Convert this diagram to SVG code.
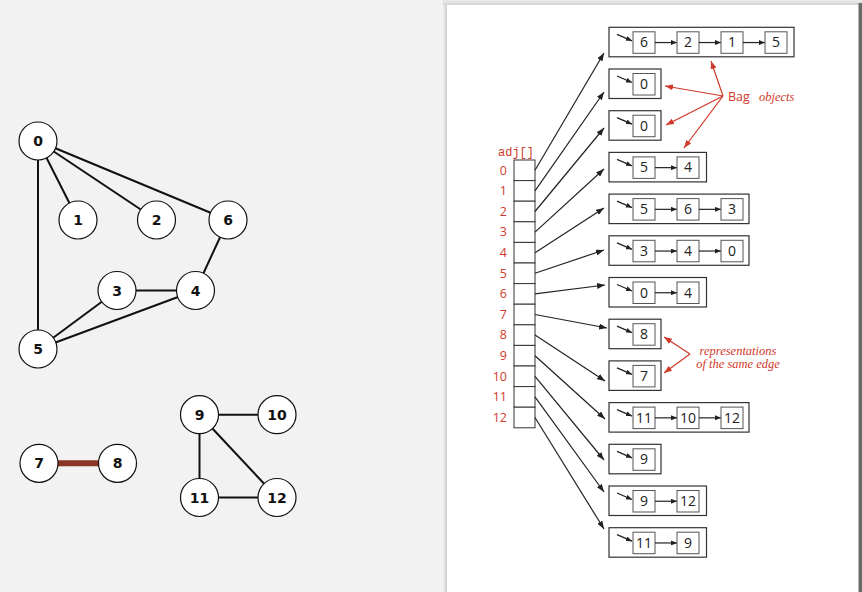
<svg xmlns="http://www.w3.org/2000/svg" width="862" height="592" viewBox="0 0 862 592">
<defs>
<style>
.edge{stroke:#111;stroke-width:2;fill:none}
.gnode circle{fill:#fff;stroke:#111;stroke-width:1.2}
.gnode text{font-family:"DejaVu Sans",sans-serif;font-weight:bold;font-size:14px;fill:#111;text-anchor:middle}
.cell{fill:#fff;stroke:#333;stroke-width:1}
.idx{font-family:"Open Sans","Liberation Sans",sans-serif;font-size:12.5px;fill:#d03a2a;text-anchor:end}
.outer{fill:#fff;stroke:#333;stroke-width:1.2}
.inner{fill:#fff;stroke:#555;stroke-width:1}
.val{font-family:"Open Sans","Liberation Sans",sans-serif;font-size:14px;fill:#222;text-anchor:middle}
.ptr{stroke:#222;stroke-width:1.3;fill:none}
.link{stroke:#222;stroke-width:1.2;fill:none}
.red{stroke:#d03a2a;stroke-width:1.2;fill:none}
.rtxt{font-family:"Liberation Serif",serif;font-style:italic;font-size:12.5px;fill:#d03a2a}
</style>
<marker id="ah" viewBox="0 0 8 6" refX="8" refY="3" markerWidth="8" markerHeight="6" markerUnits="userSpaceOnUse" orient="auto"><path d="M0,0 L8,3 L0,6 z" fill="#222"/></marker>
<marker id="ahs" viewBox="0 0 6 5" refX="6" refY="2.5" markerWidth="6" markerHeight="5" markerUnits="userSpaceOnUse" orient="auto"><path d="M0,0 L6,2.5 L0,5 z" fill="#222"/></marker>
<marker id="ahr" viewBox="0 0 8 6" refX="8" refY="3" markerWidth="8" markerHeight="6" markerUnits="userSpaceOnUse" orient="auto"><path d="M0,0 L8,3 L0,6 z" fill="#d03a2a"/></marker>
<linearGradient id="lsh" x1="0" x2="1" y1="0" y2="0"><stop offset="0" stop-color="#f2f2f2"/><stop offset="1" stop-color="#c8c8c8"/></linearGradient>
<linearGradient id="tsh" x1="0" x2="0" y1="0" y2="1"><stop offset="0" stop-color="#ececec"/><stop offset="1" stop-color="#d4d4d4"/></linearGradient>
</defs>
<rect x="0" y="0" width="862" height="592" fill="#f2f2f2"/>
<!-- panel -->
<rect x="443" y="0" width="419" height="5" fill="url(#tsh)"/>
<rect x="443" y="5" width="4" height="587" fill="url(#lsh)"/>
<rect x="447" y="5" width="412" height="587" fill="#fff"/>
<rect x="858.5" y="3" width="3.5" height="589" fill="#6a6a6a"/>

<!-- graph connectors -->
<g id="graph-edges">
<line class="edge" x1="38" y1="141" x2="78" y2="220"/>
<line class="edge" x1="38" y1="141" x2="156.5" y2="220"/>
<line class="edge" x1="38" y1="141" x2="228" y2="220"/>
<line class="edge" x1="38" y1="141" x2="38" y2="349"/>
<line class="edge" x1="228" y1="220" x2="195.5" y2="290.5"/>
<line class="edge" x1="117" y1="290.5" x2="195.5" y2="290.5"/>
<line class="edge" x1="117" y1="290.5" x2="38" y2="349"/>
<line class="edge" x1="195.5" y1="290.5" x2="38" y2="349"/>
<line x1="39" y1="463.3" x2="117.5" y2="463.3" stroke="#8b3525" stroke-width="6"/>
<line class="edge" x1="199.5" y1="414.7" x2="277" y2="414.7"/>
<line class="edge" x1="199.5" y1="414.7" x2="199.5" y2="497.5"/>
<line class="edge" x1="199.5" y1="414.7" x2="277" y2="497.5"/>
<line class="edge" x1="199.5" y1="497.5" x2="277" y2="497.5"/>
</g>

<g id="v0" class="gnode"><circle cx="38" cy="141" r="19"/><text x="38" y="146">0</text></g>
<g id="v1" class="gnode"><circle cx="78" cy="220" r="19"/><text x="78" y="225">1</text></g>
<g id="v2" class="gnode"><circle cx="156.5" cy="220" r="19"/><text x="156.5" y="225">2</text></g>
<g id="v6" class="gnode"><circle cx="228" cy="220" r="19"/><text x="228" y="225">6</text></g>
<g id="v3" class="gnode"><circle cx="117" cy="290.5" r="19"/><text x="117" y="295.5">3</text></g>
<g id="v4" class="gnode"><circle cx="195.5" cy="290.5" r="19"/><text x="195.5" y="295.5">4</text></g>
<g id="v5" class="gnode"><circle cx="38" cy="349" r="19"/><text x="38" y="354">5</text></g>
<g id="v7" class="gnode"><circle cx="39" cy="463.3" r="19"/><text x="39" y="468.3">7</text></g>
<g id="v8" class="gnode"><circle cx="117.5" cy="463.3" r="19"/><text x="117.5" y="468.3">8</text></g>
<g id="v9" class="gnode"><circle cx="199.5" cy="414.7" r="19"/><text x="199.5" y="419.7">9</text></g>
<g id="v10" class="gnode"><circle cx="277" cy="414.7" r="19"/><text x="277" y="419.7">10</text></g>
<g id="v11" class="gnode"><circle cx="199.5" cy="497.5" r="19"/><text x="199.5" y="502.5">11</text></g>
<g id="v12" class="gnode"><circle cx="277" cy="497.5" r="19"/><text x="277" y="502.5">12</text></g>

<!-- adj array -->
<g id="adj">
<text x="498" y="156" font-family="Liberation Mono,monospace" font-size="12px" fill="#d03a2a">adj[]</text>
<rect class="cell" x="514" y="160" width="21" height="20.6"/>
<rect class="cell" x="514" y="180.6" width="21" height="20.6"/>
<rect class="cell" x="514" y="201.2" width="21" height="20.6"/>
<rect class="cell" x="514" y="221.8" width="21" height="20.6"/>
<rect class="cell" x="514" y="242.4" width="21" height="20.6"/>
<rect class="cell" x="514" y="263" width="21" height="20.6"/>
<rect class="cell" x="514" y="283.6" width="21" height="20.6"/>
<rect class="cell" x="514" y="304.2" width="21" height="20.6"/>
<rect class="cell" x="514" y="324.8" width="21" height="20.6"/>
<rect class="cell" x="514" y="345.4" width="21" height="20.6"/>
<rect class="cell" x="514" y="366" width="21" height="20.6"/>
<rect class="cell" x="514" y="386.6" width="21" height="20.6"/>
<rect class="cell" x="514" y="407.2" width="21" height="20.6"/>
<text class="idx" x="507" y="174.5">0</text>
<text class="idx" x="507" y="195.1">1</text>
<text class="idx" x="507" y="215.7">2</text>
<text class="idx" x="507" y="236.3">3</text>
<text class="idx" x="507" y="256.9">4</text>
<text class="idx" x="507" y="277.5">5</text>
<text class="idx" x="507" y="298.1">6</text>
<text class="idx" x="507" y="318.7">7</text>
<text class="idx" x="507" y="339.3">8</text>
<text class="idx" x="507" y="359.9">9</text>
<text class="idx" x="507" y="380.5">10</text>
<text class="idx" x="507" y="401.1">11</text>
<text class="idx" x="507" y="421.7">12</text>
</g>

<!-- adj connectors -->
<g id="adj-links">
<line class="link" marker-end="url(#ah)" x1="535" y1="170.3" x2="604" y2="53"/>
<line class="link" marker-end="url(#ah)" x1="535" y1="190.9" x2="604" y2="92"/>
<line class="link" marker-end="url(#ah)" x1="535" y1="211.5" x2="604" y2="128"/>
<line class="link" marker-end="url(#ah)" x1="535" y1="232.1" x2="604" y2="169"/>
<line class="link" marker-end="url(#ah)" x1="535" y1="252.7" x2="604" y2="208"/>
<line class="link" marker-end="url(#ah)" x1="535" y1="273.3" x2="604" y2="250"/>
<line class="link" marker-end="url(#ah)" x1="535" y1="293.9" x2="605" y2="285"/>
<line class="link" marker-end="url(#ah)" x1="535" y1="314.5" x2="607" y2="328"/>
<line class="link" marker-end="url(#ah)" x1="535" y1="335.1" x2="605" y2="381"/>
<line class="link" marker-end="url(#ah)" x1="535" y1="355.7" x2="605" y2="419"/>
<line class="link" marker-end="url(#ah)" x1="535" y1="376.3" x2="604" y2="460"/>
<line class="link" marker-end="url(#ah)" x1="535" y1="396.9" x2="604" y2="492"/>
<line class="link" marker-end="url(#ah)" x1="535" y1="417.5" x2="604" y2="529"/>
</g>

<!-- bag rows -->
<g id="bag0" transform="translate(609,27.3)">
<rect class="outer" width="185" height="29.5"/>
<line class="ptr" marker-end="url(#ahs)" x1="8" y1="7" x2="23" y2="13.5"/>
<rect class="inner" x="24" y="4.5" width="22" height="21.5"/><text class="val" x="35" y="20">6</text>
<line class="link" marker-end="url(#ahs)" x1="46" y1="15.25" x2="68" y2="15.25"/>
<rect class="inner" x="68" y="4.5" width="22" height="21.5"/><text class="val" x="79" y="20">2</text>
<line class="link" marker-end="url(#ahs)" x1="90" y1="15.25" x2="112" y2="15.25"/>
<rect class="inner" x="112" y="4.5" width="22" height="21.5"/><text class="val" x="123" y="20">1</text>
<line class="link" marker-end="url(#ahs)" x1="134" y1="15.25" x2="156" y2="15.25"/>
<rect class="inner" x="156" y="4.5" width="22" height="21.5"/><text class="val" x="167" y="20">5</text>
</g>
<g id="bag1" transform="translate(609,69)">
<rect class="outer" width="52" height="29.5"/>
<line class="ptr" marker-end="url(#ahs)" x1="8" y1="7" x2="23" y2="13.5"/>
<rect class="inner" x="24" y="4.5" width="22" height="21.5"/><text class="val" x="35" y="20">0</text>
</g>
<g id="bag2" transform="translate(609,110.7)">
<rect class="outer" width="52" height="29.5"/>
<line class="ptr" marker-end="url(#ahs)" x1="8" y1="7" x2="23" y2="13.5"/>
<rect class="inner" x="24" y="4.5" width="22" height="21.5"/><text class="val" x="35" y="20">0</text>
</g>
<g id="bag3" transform="translate(609,152.4)">
<rect class="outer" width="97.5" height="29.5"/>
<line class="ptr" marker-end="url(#ahs)" x1="8" y1="7" x2="23" y2="13.5"/>
<rect class="inner" x="24" y="4.5" width="22" height="21.5"/><text class="val" x="35" y="20">5</text>
<line class="link" marker-end="url(#ahs)" x1="46" y1="15.25" x2="68" y2="15.25"/>
<rect class="inner" x="68" y="4.5" width="22" height="21.5"/><text class="val" x="79" y="20">4</text>
</g>
<g id="bag4" transform="translate(609,194.1)">
<rect class="outer" width="140" height="29.5"/>
<line class="ptr" marker-end="url(#ahs)" x1="8" y1="7" x2="23" y2="13.5"/>
<rect class="inner" x="24" y="4.5" width="22" height="21.5"/><text class="val" x="35" y="20">5</text>
<line class="link" marker-end="url(#ahs)" x1="46" y1="15.25" x2="68" y2="15.25"/>
<rect class="inner" x="68" y="4.5" width="22" height="21.5"/><text class="val" x="79" y="20">6</text>
<line class="link" marker-end="url(#ahs)" x1="90" y1="15.25" x2="112" y2="15.25"/>
<rect class="inner" x="112" y="4.5" width="22" height="21.5"/><text class="val" x="123" y="20">3</text>
</g>
<g id="bag5" transform="translate(609,235.8)">
<rect class="outer" width="140" height="29.5"/>
<line class="ptr" marker-end="url(#ahs)" x1="8" y1="7" x2="23" y2="13.5"/>
<rect class="inner" x="24" y="4.5" width="22" height="21.5"/><text class="val" x="35" y="20">3</text>
<line class="link" marker-end="url(#ahs)" x1="46" y1="15.25" x2="68" y2="15.25"/>
<rect class="inner" x="68" y="4.5" width="22" height="21.5"/><text class="val" x="79" y="20">4</text>
<line class="link" marker-end="url(#ahs)" x1="90" y1="15.25" x2="112" y2="15.25"/>
<rect class="inner" x="112" y="4.5" width="22" height="21.5"/><text class="val" x="123" y="20">0</text>
</g>
<g id="bag6" transform="translate(609,277.5)">
<rect class="outer" width="97.5" height="29.5"/>
<line class="ptr" marker-end="url(#ahs)" x1="8" y1="7" x2="23" y2="13.5"/>
<rect class="inner" x="24" y="4.5" width="22" height="21.5"/><text class="val" x="35" y="20">0</text>
<line class="link" marker-end="url(#ahs)" x1="46" y1="15.25" x2="68" y2="15.25"/>
<rect class="inner" x="68" y="4.5" width="22" height="21.5"/><text class="val" x="79" y="20">4</text>
</g>
<g id="bag7" transform="translate(609,319.2)">
<rect class="outer" width="52" height="29.5"/>
<line class="ptr" marker-end="url(#ahs)" x1="8" y1="7" x2="23" y2="13.5"/>
<rect class="inner" x="24" y="4.5" width="22" height="21.5"/><text class="val" x="35" y="20">8</text>
</g>
<g id="bag8" transform="translate(609,360.9)">
<rect class="outer" width="52" height="29.5"/>
<line class="ptr" marker-end="url(#ahs)" x1="8" y1="7" x2="23" y2="13.5"/>
<rect class="inner" x="24" y="4.5" width="22" height="21.5"/><text class="val" x="35" y="20">7</text>
</g>
<g id="bag9" transform="translate(609,402.6)">
<rect class="outer" width="140" height="29.5"/>
<line class="ptr" marker-end="url(#ahs)" x1="8" y1="7" x2="23" y2="13.5"/>
<rect class="inner" x="24" y="4.5" width="22" height="21.5"/><text class="val" x="35" y="20">11</text>
<line class="link" marker-end="url(#ahs)" x1="46" y1="15.25" x2="68" y2="15.25"/>
<rect class="inner" x="68" y="4.5" width="22" height="21.5"/><text class="val" x="79" y="20">10</text>
<line class="link" marker-end="url(#ahs)" x1="90" y1="15.25" x2="112" y2="15.25"/>
<rect class="inner" x="112" y="4.5" width="22" height="21.5"/><text class="val" x="123" y="20">12</text>
</g>
<g id="bag10" transform="translate(609,444.3)">
<rect class="outer" width="52" height="29.5"/>
<line class="ptr" marker-end="url(#ahs)" x1="8" y1="7" x2="23" y2="13.5"/>
<rect class="inner" x="24" y="4.5" width="22" height="21.5"/><text class="val" x="35" y="20">9</text>
</g>
<g id="bag11" transform="translate(609,486)">
<rect class="outer" width="97.5" height="29.5"/>
<line class="ptr" marker-end="url(#ahs)" x1="8" y1="7" x2="23" y2="13.5"/>
<rect class="inner" x="24" y="4.5" width="22" height="21.5"/><text class="val" x="35" y="20">9</text>
<line class="link" marker-end="url(#ahs)" x1="46" y1="15.25" x2="68" y2="15.25"/>
<rect class="inner" x="68" y="4.5" width="22" height="21.5"/><text class="val" x="79" y="20">12</text>
</g>
<g id="bag12" transform="translate(609,527.7)">
<rect class="outer" width="97.5" height="29.5"/>
<line class="ptr" marker-end="url(#ahs)" x1="8" y1="7" x2="23" y2="13.5"/>
<rect class="inner" x="24" y="4.5" width="22" height="21.5"/><text class="val" x="35" y="20">11</text>
<line class="link" marker-end="url(#ahs)" x1="46" y1="15.25" x2="68" y2="15.25"/>
<rect class="inner" x="68" y="4.5" width="22" height="21.5"/><text class="val" x="79" y="20">9</text>
</g>

<!-- annotations -->
<g id="bag-label">
<text x="728" y="101" font-family="Open Sans,Liberation Sans,sans-serif" font-size="12.5px" fill="#d03a2a">Bag</text>
<text class="rtxt" x="759" y="101">objects</text>
</g>
<g id="same-edge-label">
<text class="rtxt" x="738" y="354.5" text-anchor="middle">representations</text>
<text class="rtxt" x="738" y="368" text-anchor="middle">of the same edge</text>
</g>
<g id="annotation-arrows">
<line class="red" marker-end="url(#ahr)" x1="723" y1="96" x2="711" y2="61"/>
<line class="red" marker-end="url(#ahr)" x1="723" y1="96" x2="665" y2="86"/>
<line class="red" marker-end="url(#ahr)" x1="723" y1="96" x2="666" y2="125"/>
<line class="red" marker-end="url(#ahr)" x1="723" y1="96" x2="684" y2="148"/>
<line class="red" marker-end="url(#ahr)" x1="690" y1="354" x2="664" y2="337"/>
<line class="red" marker-end="url(#ahr)" x1="690" y1="354" x2="664" y2="373"/>
</g>
</svg>
